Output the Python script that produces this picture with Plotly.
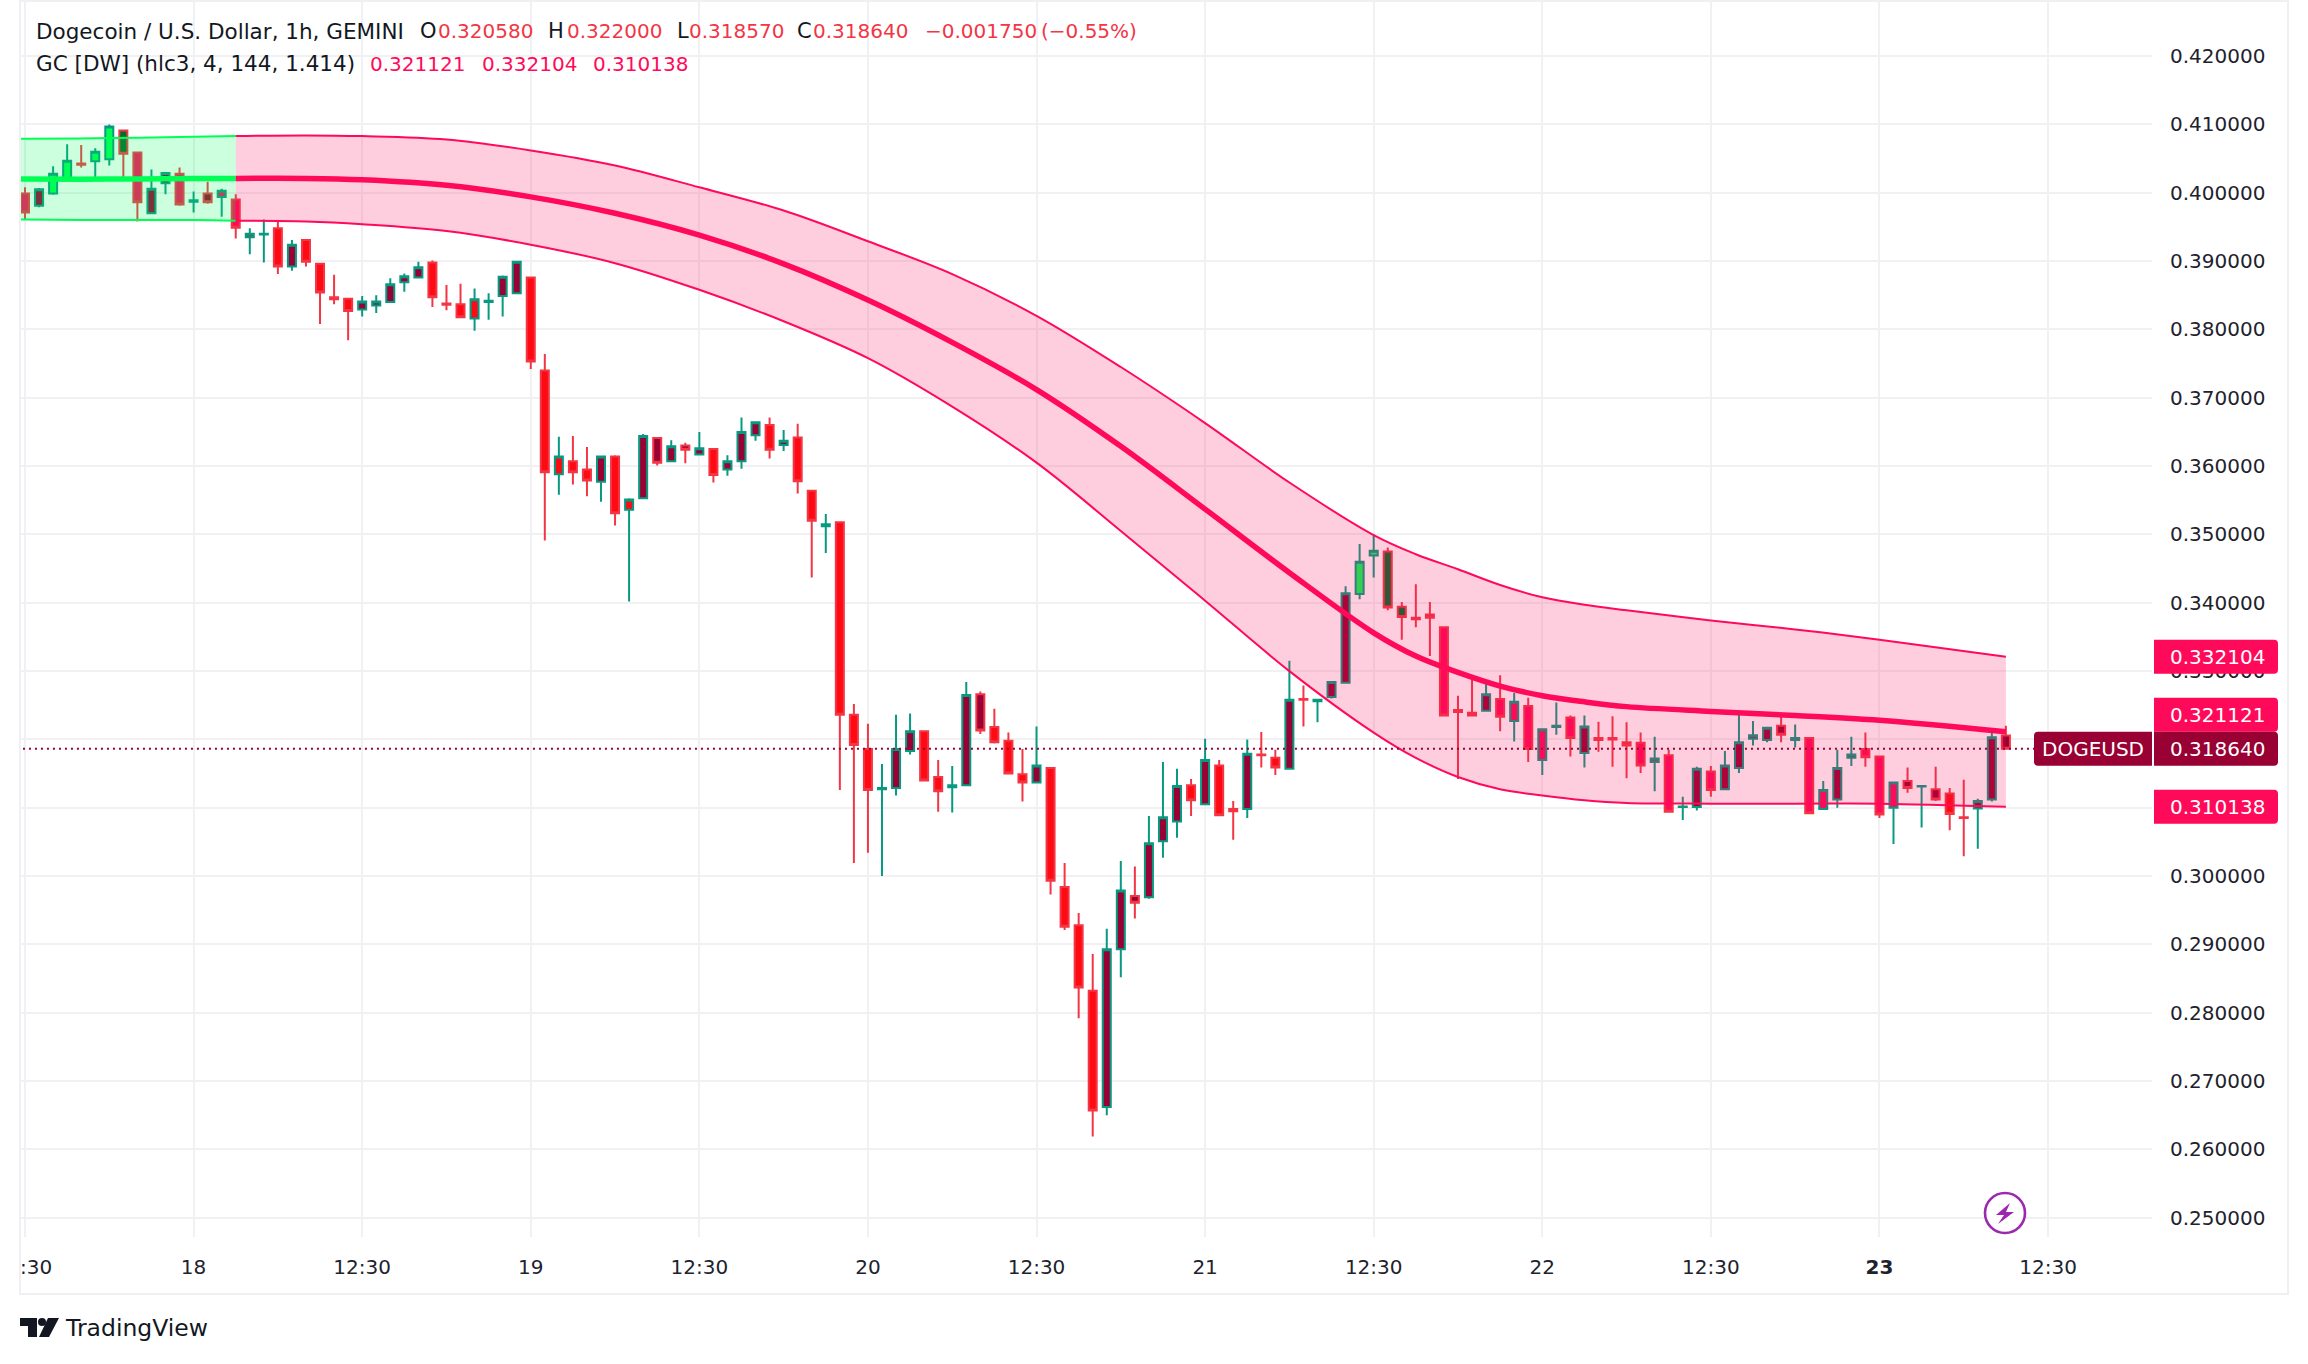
import plotly.graph_objects as go

# ---------- data ----------
opens = [.3999,.3981,.3999,.4021,.4043,.4046,.4049,.4091,.4059,.3970,.4014,.4028,.3987,.3999,.3994,.3990,.3935,.3939,.3948,.3892,
 .3931,.3896,.3847,.3845,.3829,.3835,.3840,.3869,.3876,.3898,.3838,.3837,.3816,.3840,.3849,.3853,.3876,.3740,.3588,.3607,
 .3595,.3577,.3614,.3536,.3553,.3641,.3607,.3630,.3617,.3625,.3595,.3607,.3645,.3660,.3631,.3642,.3564,.3512,.3518,.3236,
 .3186,.3127,.3129,.3183,.3212,.3145,.3130,.3133,.3266,.3218,.3198,.3149,.3137,.3158,.2984,.2928,.2832,.2662,.2893,.2971,
 .2969,.3051,.3080,.3133,.3105,.3162,.3098,.3098,.3178,.3173,.3157,.3259,.3256,.3262,.3283,.3413,.3469,.3475,.3394,.3378,
 .3383,.3364,.3243,.3239,.3242,.3259,.3227,.3249,.3170,.3218,.3232,.3180,.3202,.3202,.3196,.3195,.3167,.3177,.3101,.3101,
 .3153,.3127,.3158,.3201,.3199,.3220,.3199,.3202,.3098,.3112,.3173,.3186,.3175,.3100,.3139,.3131,.3127,.3121,.3086,.3099,
 .3112,.32058]
highs = [.4008,.4007,.4039,.4071,.4070,.4065,.4100,.4091,.4059,.4034,.4029,.4037,.4002,.4016,.4006,.3998,.3948,.3961,.3960,.3931,
 .3931,.3897,.3880,.3845,.3849,.3850,.3875,.3882,.3899,.3901,.3865,.3867,.3860,.3853,.3879,.3899,.3876,.3764,.3643,.3644,
 .3628,.3614,.3616,.3553,.3647,.3642,.3638,.3634,.3650,.3625,.3616,.3671,.3664,.3671,.3653,.3662,.3565,.3530,.3518,.3252,
 .3223,.3164,.3236,.3238,.3212,.3170,.3161,.3284,.3270,.3245,.3210,.3186,.3219,.3158,.3019,.2946,.2886,.2923,.3022,.3014,
 .3088,.3167,.3157,.3142,.3201,.3170,.3110,.3200,.3211,.3185,.3315,.3279,.3259,.3284,.3424,.3486,.3500,.3481,.3401,.3427,
 .3401,.3364,.3264,.3294,.3283,.3294,.3268,.3261,.3215,.3254,.3235,.3235,.3226,.3234,.3225,.3210,.3204,.3185,.3116,.3160,
 .3161,.3183,.3242,.3227,.3217,.3234,.3222,.3202,.3139,.3185,.3204,.3210,.3175,.3137,.3159,.3132,.3160,.3129,.3141,.3113,
 .3211,.32200]
lows = [.3961,.3979,.3997,.4021,.4037,.4023,.4040,.4018,.3958,.3970,.3998,.3981,.3971,.3984,.3965,.3933,.3910,.3898,.3881,.3886,
 .3892,.3808,.3837,.3784,.3819,.3824,.3840,.3855,.3876,.3833,.3828,.3818,.3798,.3814,.3819,.3853,.3742,.3491,.3558,.3573,
 .3556,.3548,.3513,.3402,.3553,.3601,.3607,.3604,.3617,.3576,.3586,.3596,.3637,.3611,.3622,.3560,.3437,.3473,.3126,.3019,
 .3034,.3000,.3118,.3178,.3140,.3094,.3093,.3133,.3208,.3194,.3150,.3109,.3137,.2973,.2921,.2792,.2619,.2650,.2852,.2938,
 .2967,.3027,.3056,.3088,.3105,.3089,.3053,.3085,.3159,.3148,.3157,.3219,.3225,.3260,.3283,.3405,.3437,.3389,.3346,.3364,
 .3322,.3235,.3142,.3234,.3242,.3212,.3197,.3167,.3148,.3207,.3175,.3159,.3182,.3160,.3143,.3151,.3124,.3094,.3082,.3096,
 .3116,.3127,.3151,.3191,.3196,.3196,.3188,.3092,.3098,.3100,.3161,.3160,.3085,.3047,.3122,.3071,.3110,.3067,.3029,.3040,
 .3109,.31857]
closes = [.3971,.4005,.4028,.4047,.4041,.4060,.4097,.4057,.3986,.4006,.4029,.3983,.3989,.3986,.4003,.3949,.3940,.3940,.3892,.3924,
 .3899,.3854,.3844,.3827,.3841,.3841,.3866,.3878,.3891,.3847,.3836,.3818,.3844,.3842,.3877,.3899,.3753,.3591,.3614,.3591,
 .3579,.3614,.3531,.3551,.3644,.3605,.3629,.3624,.3626,.3587,.3607,.3650,.3664,.3624,.3637,.3578,.3520,.3515,.3236,.3192,
 .3126,.3129,.3186,.3212,.3140,.3124,.3133,.3265,.3213,.3196,.3150,.3137,.3162,.2993,.2926,.2837,.2657,.2893,.2979,.2961,
 .3048,.3086,.3132,.3111,.3170,.3089,.3095,.3179,.3177,.3159,.3258,.3258,.3258,.3284,.3414,.3460,.3476,.3393,.3379,.3376,
 .3378,.3235,.3240,.3235,.3266,.3233,.3255,.3186,.3215,.3220,.3202,.3219,.3199,.3200,.3191,.3162,.3172,.3094,.3102,.3157,
 .3126,.3162,.3196,.3206,.3217,.3207,.3202,.3092,.3126,.3158,.3178,.3174,.3090,.3137,.3129,.3132,.3112,.3091,.3085,.3110,
 .3203,.31864]
body_tone = list(
 "PMLLPLLDPMMPMMPPRMRM"
 "RRRRMMMMMRRRRMMMRRRR"
 "RMRRMMMMMRMMMRMRRMRR"
 "RMMMRRMMMRRRMRRRRMMM"
 "MMMRMRRMRRMRMMMLLDDR"
 "PPPPMPPPPMPMPPPPPPMM"
 "PMMMMMMPPMMPPPMMMRRM"
 "MM")
tones = {"R": "#FF0A12", "M": "#990033", "L": "#00FF55", "D": "#006B2D", "P": "#FF0A5A"}

green_x = [-1, 0, 6, 12, 15]
green_upper = [.4079, .4079, .4080, .4082, .4083]
green_mean = [.4020, .4020, .4020, .4021, .4021]
green_lower = [.3961, .3961, .3960, .3960, .3959]

pink_x = [15, 20, 24, 30, 36, 42, 48, 54, 60, 66, 72, 78, 84, 90, 96, 99, 102, 105, 108, 111, 114, 120, 126, 132, 141]
pink_upper = [.4083,.4084,.4083,.4078,.4062,.4040,.4008,.3974,.3929,.3881,.3820,.3745,.3663,.3576,.3499,.3471,.3449,.3426,.3408,.3397,.3389,.3374,.3361,.3346,.332104]
pink_mean = [.4021,.4021,.4019,.4011,.3994,.3970,.3938,.3896,.3843,.3781,.3712,.3629,.3537,.3444,.3356,.3322,.3298,.3278,.3264,.3255,.3248,.3241,.3235,.3228,.321121]
pink_lower = [.3959,.3958,.3954,.3944,.3924,.3897,.3858,.3812,.3758,.3687,.3605,.3505,.3403,.3300,.3210,.3173,.3145,.3127,.3118,.3111,.3107,.3106,.3106,.3106,.310138]

last_price = 0.31864
gc_values = [0.332104, 0.321121, 0.310138]
gc_label_lift = [0, 17, 0]
price_ticks = [.25,.26,.27,.28,.29,.30,.31,.32,.33,.34,.35,.36,.37,.38,.39,.40,.41,.42]
time_ticks = [0, 12, 24, 36, 48, 60, 72, 84, 96, 108, 120, 132, 144]
time_labels = ["", "18", "12:30", "19", "12:30", "20", "12:30", "21", "12:30", "22", "12:30", "<b>23</b>", "12:30"]

# ---------- page geometry ----------
W, H = 2308, 1364
L, R, T, B = 21, 2152, 2, 1237
FONT = "DejaVu Sans"
INK = "#131722"
AXIS = "#1E222D"
TEAL, RED = "#089981", "#F23645"
PINK, GREEN, MAROON = "#FF0A5A", "#00FF55", "#990033"

def px(x):
    return (x - L) / (R - L)

def py(y):
    return (B - y) / (B - T)

def path(points, close=True):
    s = "M" + " L".join(f"{px(a):.5f},{py(b):.5f}" for a, b in points)
    return s + (" Z" if close else "")

fig = go.Figure()

def band(x, up, mean, low, color, fill):
    sp = dict(shape="spline", smoothing=1.0)
    fig.add_trace(go.Scatter(x=x, y=low, mode="lines", line=dict(color=color, width=2, **sp), hoverinfo="skip"))
    fig.add_trace(go.Scatter(x=x, y=up, mode="lines", fill="tonexty", fillcolor=fill, line=dict(color=color, width=2, **sp), hoverinfo="skip"))
    fig.add_trace(go.Scatter(x=x, y=mean, mode="lines", line=dict(color=color, width=5.5, **sp), hoverinfo="skip"))

band(green_x, green_upper, green_mean, green_lower, GREEN, "rgba(0,255,85,0.2)")
band(pink_x, pink_upper, pink_mean, pink_lower, PINK, "rgba(255,10,90,0.2)")

fig.add_trace(go.Scatter(x=[-1, 152], y=[last_price, last_price], mode="lines", cliponaxis=False,
                         line=dict(color=MAROON, width=2, dash="2px,4px"), hoverinfo="skip"))

for key, col in tones.items():
    idx = [i for i, t in enumerate(body_tone) if t == key]
    fig.add_trace(go.Candlestick(
        x=idx,
        open=[opens[i] for i in idx], high=[highs[i] for i in idx],
        low=[lows[i] for i in idx], close=[closes[i] for i in idx],
        increasing=dict(line=dict(color=TEAL, width=2), fillcolor=col),
        decreasing=dict(line=dict(color=RED, width=2), fillcolor=col),
        whiskerwidth=0, hoverinfo="skip"))

shapes = []
# outer frame
shapes.append(dict(type="rect", xref="paper", yref="paper", layer="below", x0=px(20), x1=px(2288), y0=py(1294), y1=py(1),
                   line=dict(color="#EFEFF4", width=2), fillcolor="rgba(0,0,0,0)"))

annotations = []

def text(x, y, s, color=INK, size=20, anchor="left"):
    annotations.append(dict(xref="paper", yref="paper", x=px(x), y=py(y), text=s, showarrow=False, xanchor=anchor,
                            yanchor="middle", font=dict(family=FONT, size=size, color=color), align="left"))

def tag(value, x0, x1, color, radius_left=0, radius_right=4, lift=0):
    h = 17
    a, b = x0 - 2152, x1 - 2152
    rl, rr = radius_left, radius_right
    top, bot = h + lift, -h + lift
    p = (f"M{a + rl},{top} L{b - rr},{top} Q{b},{top} {b},{top - rr} L{b},{bot + rr} Q{b},{bot} {b - rr},{bot} "
         f"L{a + rl},{bot} Q{a},{bot} {a},{bot + rl} L{a},{top - rl} Q{a},{top} {a + rl},{top} Z")
    shapes.append(dict(type="path", xref="paper", yref="y", xsizemode="pixel", ysizemode="pixel", xanchor=1, yanchor=value,
                       path=p, fillcolor=color, line=dict(width=0), layer="above"))

for v, lift in zip(gc_values, gc_label_lift):
    tag(v, 2154, 2278, PINK, lift=lift)
    annotations.append(dict(xref="paper", yref="y", x=px(2168), y=v, yshift=lift, text=f"{v:.6f}", showarrow=False, xanchor="left",
                            yanchor="middle", font=dict(family=FONT, size=20, color="#FFFFFF")))
tag(last_price, 2154, 2278, MAROON)
tag(last_price, 2034, 2152, MAROON, radius_left=4, radius_right=0)
annotations.append(dict(xref="paper", yref="y", x=px(2168), y=last_price, text=f"{last_price:.6f}", showarrow=False, xanchor="left",
                        yanchor="middle", font=dict(family=FONT, size=20, color="#FFFFFF")))
annotations.append(dict(xref="paper", yref="y", x=px(2040), y=last_price, text="DOGEUSD", showarrow=False, xanchor="left",
                        yanchor="middle", font=dict(family=FONT, size=20, color="#FFFFFF")))

# header rows
text(34, 31, "Dogecoin / U.S. Dollar, 1h, GEMINI", size=21.5)
text(418, 31, "O", size=21)
text(436, 31, "0.320580", RED)
text(546, 31, "H", size=21)
text(565, 31, "0.322000", RED)
text(675, 31, "L", size=21)
text(687, 31, "0.318570", RED)
text(795, 31, "C", size=21)
text(811, 31, "0.318640", RED)
text(923, 31, "−0.001750", RED)
text(1039, 31, "(−0.55%)", RED)
text(34, 64, "GC [DW] (hlc3, 4, 144, 1.414)", size=21.5)
text(368, 64, "0.321121", PINK)
text(480, 64, "0.332104", PINK)
text(591, 64, "0.310138", PINK)

# clipped first time label
text(54, 1267, ":30", AXIS, anchor="right")

# logo
LOGO = "#131722"
shapes.append(dict(type="path", xref="paper", yref="paper", path=path([(20, 1318), (37, 1318), (37, 1337), (28, 1337), (28, 1326), (20, 1326)]),
                   fillcolor=LOGO, line=dict(width=0), layer="above"))
shapes.append(dict(type="circle", xref="paper", yref="paper", x0=px(38), x1=px(46), y0=py(1326), y1=py(1318),
                   fillcolor=LOGO, line=dict(width=0), layer="above"))
shapes.append(dict(type="path", xref="paper", yref="paper", path=path([(48, 1318), (59, 1318), (49, 1337), (39, 1337)]),
                   fillcolor=LOGO, line=dict(width=0), layer="above"))
text(63, 1328, "TradingView", "#131722", 23.5)

# lightning badge
shapes.append(dict(type="circle", xref="paper", yref="paper", x0=px(1985), x1=px(2025), y0=py(1233), y1=py(1193),
                   fillcolor="#FFFFFF", line=dict(color="#9C27B0", width=2.6), layer="above"))
bolt = [(2010, 1203), (1996, 1215), (2004, 1215), (1998, 1224), (2014, 1212), (2006, 1212)]
shapes.append(dict(type="path", xref="paper", yref="paper", path=path(bolt), fillcolor="#9C27B0", line=dict(width=0), layer="above"))

GRID = "#F1F1F3"
fig.update_layout(
    width=W, height=H, autosize=False,
    margin=dict(l=L, r=W - R, t=T, b=H - B, pad=0),
    paper_bgcolor="#FFFFFF", plot_bgcolor="#FFFFFF",
    showlegend=False, boxgap=0.43, boxgroupgap=0, boxmode="overlay", hovermode=False,
    shapes=shapes, annotations=annotations,
    xaxis=dict(range=[-0.285, 151.4], rangeslider=dict(visible=False), tickmode="array", tickvals=time_ticks, ticktext=time_labels,
               showgrid=True, gridcolor=GRID, gridwidth=1.5, zeroline=False, showline=False, ticks="", ticklabelstandoff=16,
               tickfont=dict(family=FONT, size=20, color=AXIS)),
    yaxis=dict(range=[0.24718, 0.42792], side="right", tickmode="array", tickvals=price_ticks, ticktext=[f"{v:.6f}" for v in price_ticks],
               showgrid=True, gridcolor=GRID, gridwidth=1.5, zeroline=False, showline=False, ticks="", ticklabelstandoff=17,
               tickfont=dict(family=FONT, size=20, color=AXIS)),
)

fig.write_html("out.html", config=dict(displayModeBar=False), post_script="document.body.style.margin='0';")
